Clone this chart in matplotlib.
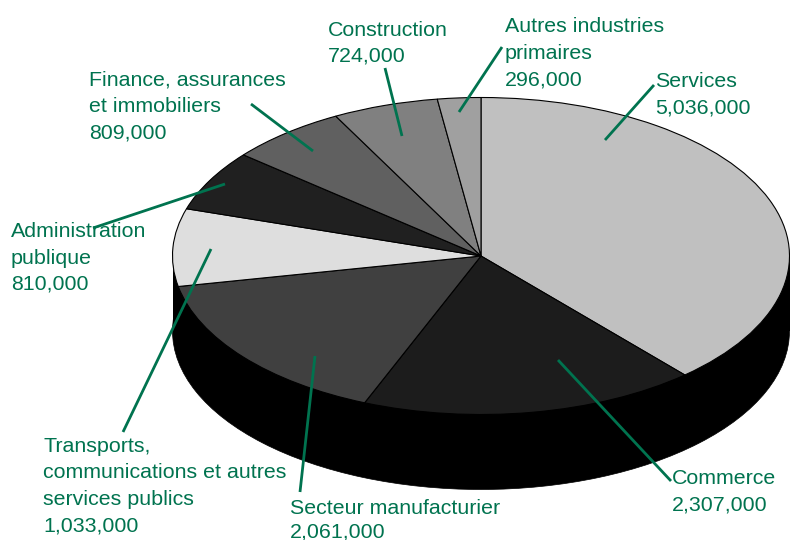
import matplotlib
matplotlib.use('Agg')
import matplotlib.pyplot as plt

plt.rcParams['font.family'] = ['Liberation Sans', 'DejaVu Sans']

# employment by sector, clockwise from 12 o'clock
sectors = ['Services', 'Commerce', 'Secteur manufacturier', 'Transports',
           'Administration', 'Finance', 'Construction', 'Autres']
values = [5036000, 2307000, 2061000, 1033000, 810000, 809000, 724000, 296000]
greys = ['#c0c0c0', '#1c1c1c', '#404040', '#dedede',
         '#202020', '#606060', '#808080', '#a0a0a0']

label_lines = [
    ['Services', '5,036,000'],
    ['Commerce', '2,307,000'],
    ['Secteur manufacturier', '2,061,000'],
    ['Transports,', 'communications et autres', 'services publics', '1,033,000'],
    ['Administration', 'publique', '810,000'],
    ['Finance, assurances', 'et immobiliers', '809,000'],
    ['Construction', '724,000'],
    ['Autres industries', 'primaires', '296,000'],
]

# pixel layout of the tilted disc
W, H = 790, 540
CX, CY = 481, 256
RX, RY = 308.5, 158.5
DEPTH = 75 / RY

# x, first baseline y, line height
label_pos = [
    (655, 87, 26.2), (672, 484, 26.5), (290, 514, 23.5), (43, 452, 26.5),
    (11, 237, 26.5), (89, 86, 26.3), (328, 36, 26), (505, 32, 26.5),
]
leaders = [
    ((654, 85), (605, 140)),
    ((671, 481), (558, 360)),
    ((300, 492), (315, 356)),
    ((123, 432), (211, 249)),
    ((93, 228), (225, 184)),
    ((251, 104), (313, 151)),
    ((385, 68), (402, 136)),
    ((502, 47), (459, 112)),
]
GREEN = '#00734f'

fig = plt.figure(figsize=(W / 100, H / 100), dpi=100, facecolor='white')
ax = fig.add_axes([0, 0, 1, 1])

# black side wall: lower disc plus the band joining it to the top
ax.pie([sum(values)], startangle=90, center=(0, -DEPTH), colors=['black'],
       wedgeprops={'edgecolor': 'black', 'linewidth': 0.5, 'zorder': 1})
ax.fill_between([-1, 1], [0, 0], [-DEPTH, -DEPTH], color='black', linewidth=0, zorder=1)

# top face
ax.pie(values, startangle=90, counterclock=False, colors=greys,
       wedgeprops={'edgecolor': 'black', 'linewidth': 0.8, 'zorder': 2})

# squash the unit circle into the ellipse
ax.set_aspect('auto')
ax.set_xlim(-CX / RX, (W - CX) / RX)
ax.set_ylim((CY - H) / RY, CY / RY)
ax.axis('off')


def to_fig(x, y):
    return x / W, 1 - y / H


for lines, (x, y0, step) in zip(label_lines, label_pos):
    for i, line in enumerate(lines):
        fx, fy = to_fig(x, y0 + i * step)
        fig.text(fx, fy, line, color=GREEN, fontsize=15.4, ha='left', va='baseline')

for start, end in leaders:
    xs, ys = zip(to_fig(*start), to_fig(*end))
    fig.add_artist(plt.Line2D(xs, ys, color=GREEN, linewidth=2.0, zorder=5,
                              solid_capstyle='butt'))

fig.savefig('out.png', dpi=100)
